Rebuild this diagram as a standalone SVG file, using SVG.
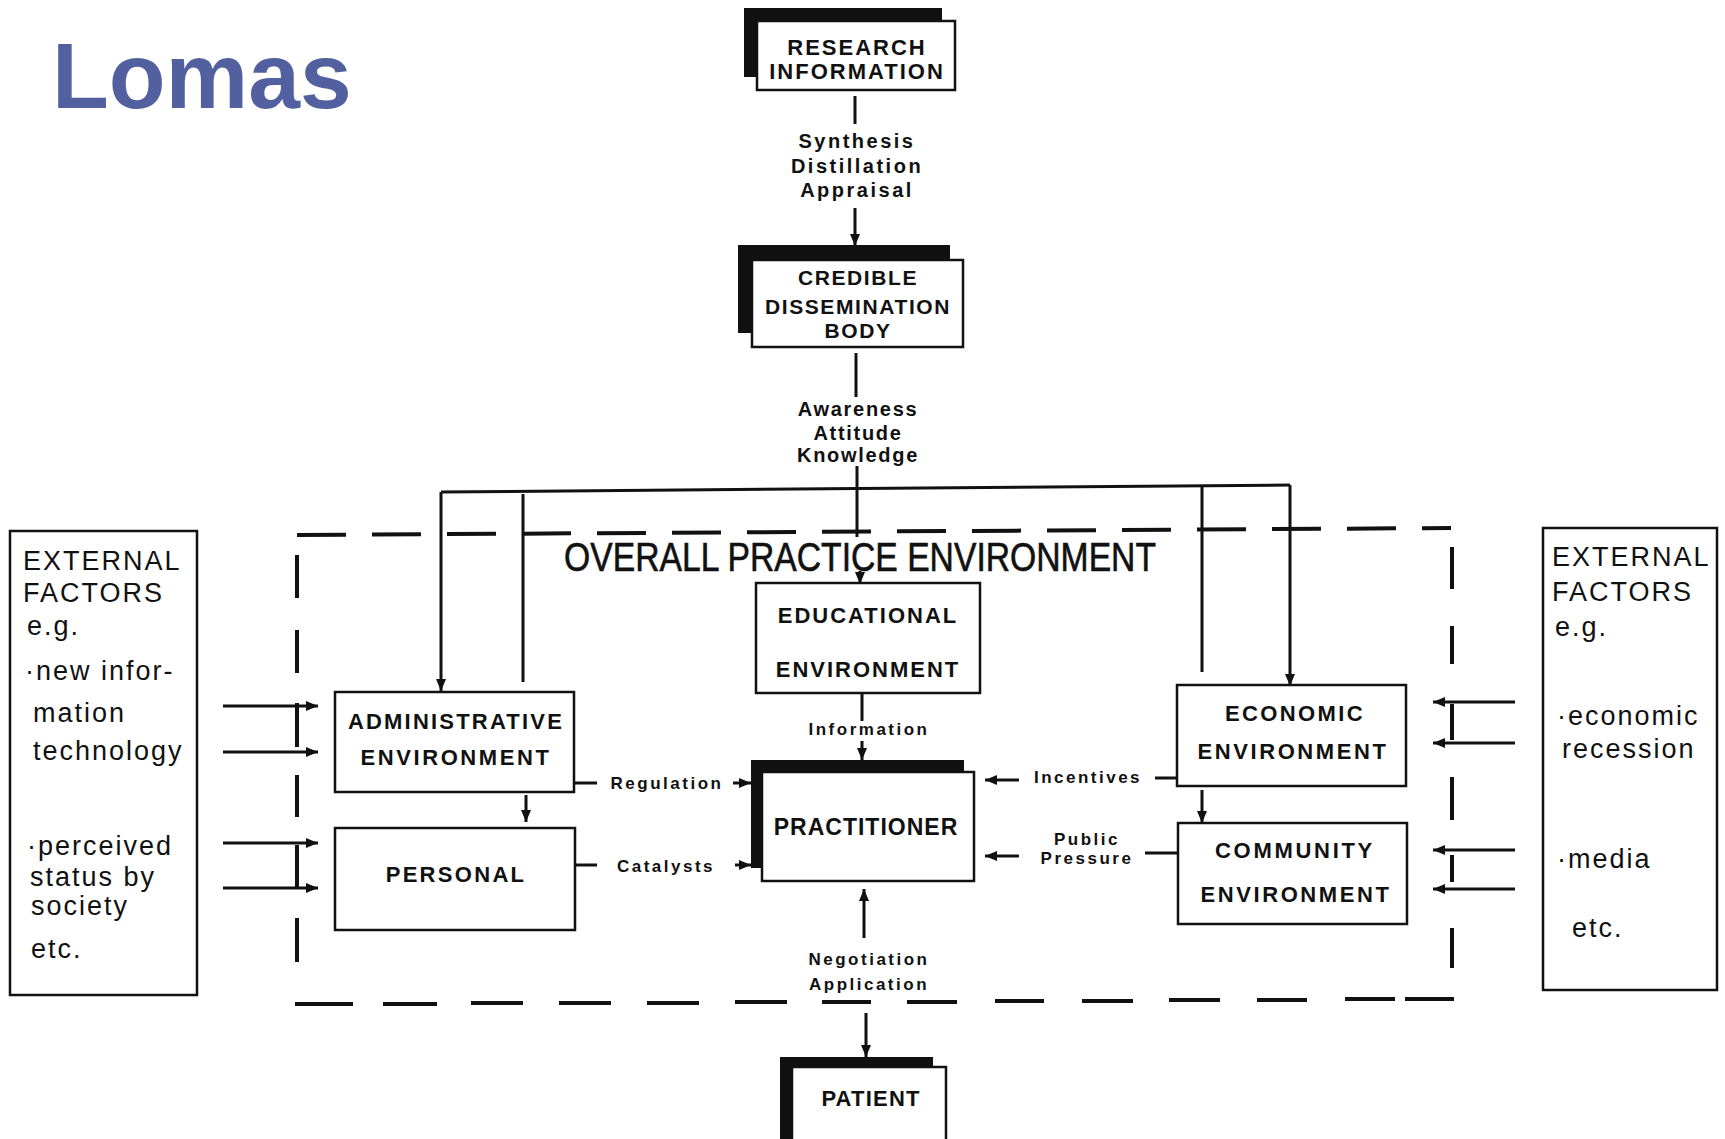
<svg xmlns="http://www.w3.org/2000/svg" width="1725" height="1139" viewBox="0 0 1725 1139">
<defs>
<marker id="ah" markerUnits="userSpaceOnUse" markerWidth="12" markerHeight="10" refX="12" refY="5" orient="auto">
<path d="M0,0 L12,5 L0,10 z" fill="#111"/>
</marker>
<style>
.box{fill:#fff;stroke:#111;stroke-width:2.5}
.sh{fill:#111}
.ln{stroke:#111;stroke-width:3;fill:none}
.ar{stroke:#111;stroke-width:3;fill:none;marker-end:url(#ah)}
.dash{stroke:#111;stroke-width:4;fill:none}
.t{font-family:"Liberation Sans",Arial,sans-serif;font-weight:bold;fill:#111;text-anchor:middle}
.n{font-size:22px;letter-spacing:2px}
.lab{font-size:17px;letter-spacing:2.5px}
.ex{font-family:"Liberation Sans",Arial,sans-serif;font-size:27px;fill:#111;letter-spacing:2px}
</style>
</defs>
<rect x="0" y="0" width="1725" height="1139" fill="#fff"/>
<text x="52" y="108" font-family="Liberation Sans, Arial, sans-serif" font-weight="bold" font-size="93" fill="#5360a0">Lomas</text>

<g id="connectors">
<line class="ln" x1="855" y1="96" x2="855" y2="124"/>
<line class="ar" x1="855" y1="208" x2="855" y2="246"/>
<line class="ln" x1="856" y1="353" x2="856" y2="397"/>
<line class="ln" x1="857" y1="466" x2="857" y2="537"/>
<line class="ln" x1="441" y1="492" x2="1290" y2="485"/>
<line class="ar" x1="441" y1="492" x2="441" y2="691"/>
<line class="ln" x1="523" y1="494" x2="523" y2="682"/>
<line class="ln" x1="1202" y1="485" x2="1202" y2="672"/>
<line class="ar" x1="1290" y1="485" x2="1290" y2="686"/>
<line class="ar" x1="860" y1="571" x2="860" y2="584"/>
<line class="ln" x1="862" y1="693" x2="862" y2="721"/>
<line class="ar" x1="862" y1="741" x2="862" y2="760"/>
<line class="ar" x1="526" y1="795" x2="526" y2="822"/>
<line class="ar" x1="1202" y1="790" x2="1202" y2="823"/>
<line class="ln" x1="574" y1="783" x2="597" y2="783"/>
<line class="ar" x1="733" y1="783" x2="751" y2="783"/>
<line class="ln" x1="575" y1="865" x2="597" y2="865"/>
<line class="ar" x1="735" y1="865" x2="751" y2="865"/>
<line class="ar" x1="1019" y1="780" x2="985" y2="780"/>
<line class="ln" x1="1155" y1="778" x2="1177" y2="778"/>
<line class="ar" x1="1019" y1="856" x2="985" y2="856"/>
<line class="ln" x1="1145" y1="853" x2="1178" y2="853"/>
<line class="ar" x1="864" y1="938" x2="864" y2="889"/>
<line class="ar" x1="866" y1="1013" x2="866" y2="1057"/>
<line class="ar" x1="223" y1="706" x2="318" y2="706"/>
<line class="ar" x1="223" y1="752" x2="318" y2="752"/>
<line class="ar" x1="223" y1="843" x2="318" y2="843"/>
<line class="ar" x1="223" y1="888" x2="318" y2="888"/>
<line class="ar" x1="1515" y1="702" x2="1433" y2="702"/>
<line class="ar" x1="1515" y1="743" x2="1433" y2="743"/>
<line class="ar" x1="1515" y1="850" x2="1433" y2="850"/>
<line class="ar" x1="1515" y1="889" x2="1433" y2="889"/>
</g>

<g id="practice-environment">
<line class="dash" x1="297" y1="535" x2="1451" y2="528" stroke-dasharray="49 26"/>
<path class="dash" d="M297,555V598 M297,630V673 M297,703V747 M297,775V817 M297,845V887 M297,918V962"/>
<path class="dash" d="M1452,547V589 M1452,626V664 M1452,704V740 M1452,777V820 M1452,855V882 M1452,928V968"/>
<path class="dash" d="M295,1004H353 M383,1004H437 M471,1003H523 M559,1003H611 M647,1003H699 M735,1002H787 M822,1002H871 M907,1002H957 M995,1001H1044 M1082,1001H1133 M1169,1000H1220 M1257,1000H1307 M1345,999H1395 M1405,999H1454"/>
<text x="564" y="571" font-family="Liberation Sans, Arial, sans-serif" font-size="40" fill="#111" stroke="#111" stroke-width="0.6" textLength="592" lengthAdjust="spacingAndGlyphs">OVERALL PRACTICE ENVIRONMENT</text>
</g>

<g id="research">
<rect class="sh" x="744" y="8" width="198" height="69"/>
<rect class="box" x="757" y="21" width="198" height="69"/>
<text class="t n" x="857" y="55">RESEARCH</text>
<text class="t n" x="857" y="79">INFORMATION</text>
</g>

<g id="synthesis-label">
<text class="t" font-size="20" letter-spacing="2.5" x="857" y="148">Synthesis</text>
<text class="t" font-size="20" letter-spacing="2.5" x="857" y="173">Distillation</text>
<text class="t" font-size="20" letter-spacing="2.5" x="857" y="197">Appraisal</text>
</g>

<g id="credible">
<rect class="sh" x="738" y="245" width="212" height="88"/>
<rect class="box" x="752" y="260" width="211" height="87"/>
<text class="t" font-size="21" letter-spacing="1.6" x="858" y="285">CREDIBLE</text>
<text class="t" font-size="21" letter-spacing="1.6" x="858" y="314">DISSEMINATION</text>
<text class="t" font-size="21" letter-spacing="1.6" x="858" y="338">BODY</text>
</g>

<g id="awareness-label">
<text class="t" font-size="20" letter-spacing="1.7" x="858" y="416">Awareness</text>
<text class="t" font-size="20" letter-spacing="1.7" x="858" y="440">Attitude</text>
<text class="t" font-size="20" letter-spacing="1.7" x="858" y="462">Knowledge</text>
</g>

<g id="educational">
<rect class="box" x="756" y="583" width="224" height="110"/>
<text class="t n" x="868" y="623">EDUCATIONAL</text>
<text class="t n" font-size="22" letter-spacing="2.5" x="868" y="677">ENVIRONMENT</text>
<text class="t lab" x="869" y="735">Information</text>
</g>

<g id="administrative">
<rect class="box" x="335" y="692" width="239" height="100"/>
<text class="t" font-size="22" letter-spacing="2.2" x="456" y="729">ADMINISTRATIVE</text>
<text class="t" font-size="22" letter-spacing="2.6" x="456" y="765">ENVIRONMENT</text>
</g>

<g id="personal">
<rect class="box" x="335" y="828" width="240" height="102"/>
<text class="t" font-size="22" letter-spacing="2.3" x="456" y="882">PERSONAL</text>
</g>

<g id="practitioner">
<rect class="sh" x="751" y="760" width="213" height="108"/>
<rect class="box" x="762" y="772" width="212" height="109"/>
<text class="t" font-size="23" letter-spacing="1" x="866" y="835">PRACTITIONER</text>
</g>

<g id="flow-labels">
<text class="t lab" x="667" y="789">Regulation</text>
<text class="t lab" x="666" y="872">Catalysts</text>
<text class="t lab" font-size="17" letter-spacing="2.8" x="1088" y="783">Incentives</text>
<text class="t lab" x="1087" y="845">Public</text>
<text class="t lab" x="1087" y="864">Pressure</text>
<text class="t lab" letter-spacing="2.7" x="869" y="965">Negotiation</text>
<text class="t lab" x="869" y="990">Application</text>
</g>

<g id="economic">
<rect class="box" x="1177" y="685" width="229" height="101"/>
<text class="t" font-size="22" letter-spacing="2.4" x="1295" y="721">ECONOMIC</text>
<text class="t" font-size="22" letter-spacing="2.6" x="1293" y="759">ENVIRONMENT</text>
</g>

<g id="community">
<rect class="box" x="1178" y="823" width="229" height="101"/>
<text class="t" font-size="22" letter-spacing="2.7" x="1295" y="858">COMMUNITY</text>
<text class="t" font-size="22" letter-spacing="2.6" x="1296" y="902">ENVIRONMENT</text>
</g>

<g id="patient">
<rect class="sh" x="780" y="1057" width="153" height="90"/>
<rect class="box" x="792" y="1067" width="154" height="90"/>
<text class="t" font-size="22" letter-spacing="1.2" x="871" y="1106">PATIENT</text>
</g>

<g id="external-left">
<rect class="box" x="10" y="531" width="187" height="464"/>
<text class="ex" letter-spacing="1" x="23" y="570">EXTERNAL</text>
<text class="ex" letter-spacing="1" x="23" y="602">FACTORS</text>
<text class="ex" x="27" y="635">e.g.</text>
<text class="ex" letter-spacing="2.4" x="25" y="680">·new infor-</text>
<text class="ex" x="33" y="722">mation</text>
<text class="ex" letter-spacing="1.7" x="33" y="760">technology</text>
<text class="ex" letter-spacing="1.2" x="27" y="855">·perceived</text>
<text class="ex" letter-spacing="2.5" x="30" y="886">status by</text>
<text class="ex" x="31" y="915">society</text>
<text class="ex" x="31" y="958">etc.</text>
</g>

<g id="external-right">
<rect class="box" x="1543" y="528" width="174" height="462"/>
<text class="ex" letter-spacing="1" x="1552" y="566">EXTERNAL</text>
<text class="ex" letter-spacing="1" x="1552" y="601">FACTORS</text>
<text class="ex" x="1555" y="636">e.g.</text>
<text class="ex" letter-spacing="2.5" x="1557" y="725">·economic</text>
<text class="ex" letter-spacing="2.5" x="1562" y="758">recession</text>
<text class="ex" letter-spacing="2.5" x="1557" y="868">·media</text>
<text class="ex" x="1572" y="937">etc.</text>
</g>
</svg>
